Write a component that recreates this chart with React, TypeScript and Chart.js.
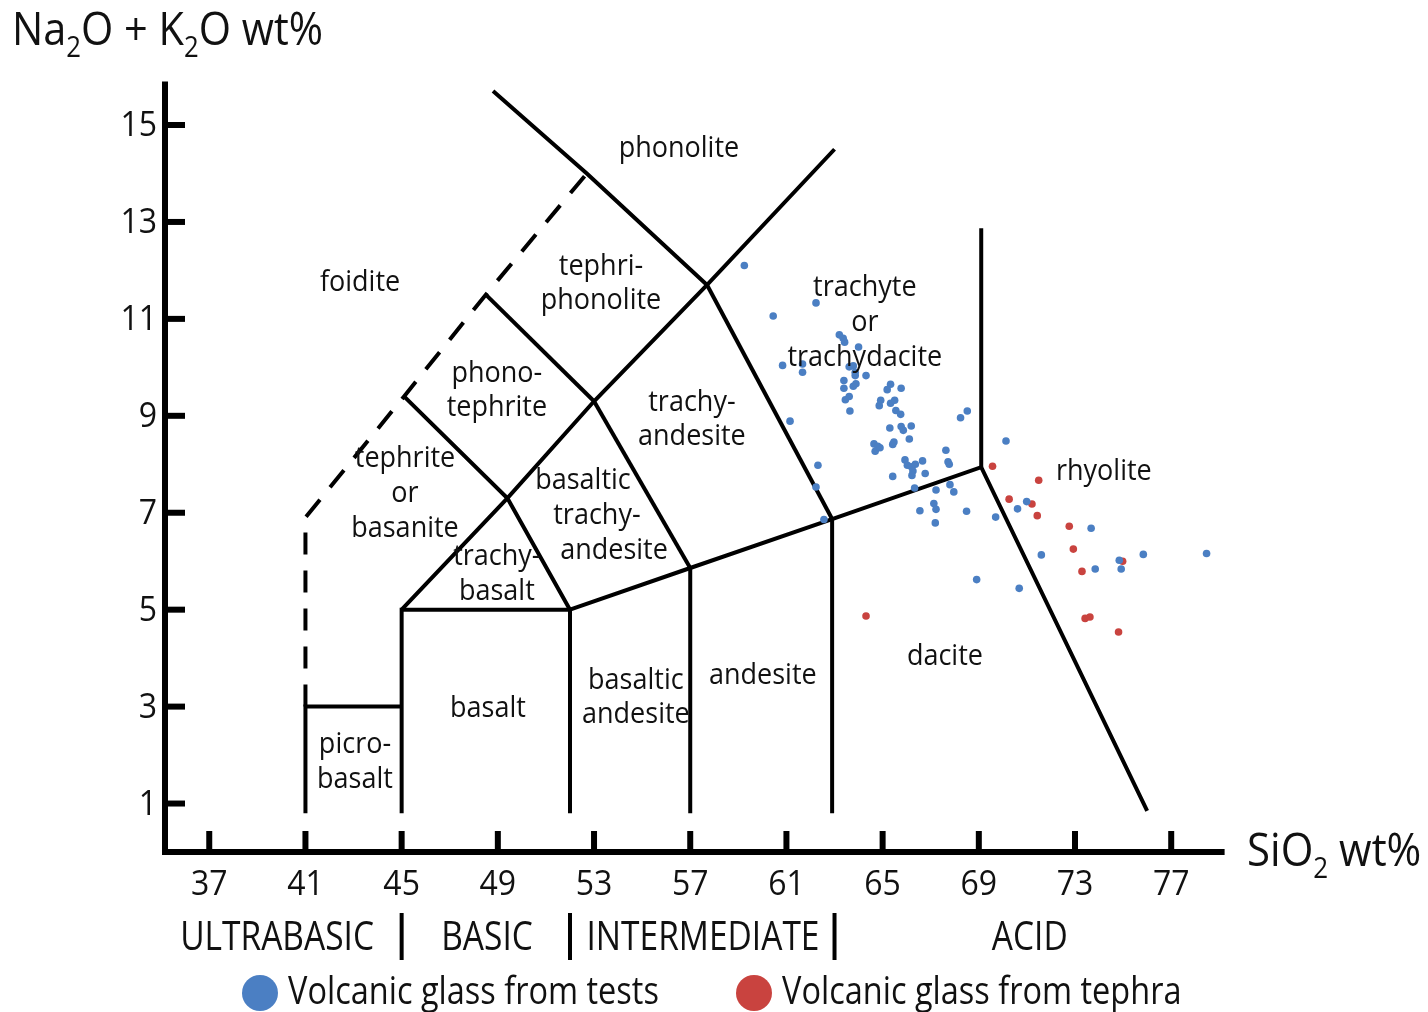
import React, { useEffect, useRef } from "react";
import { Chart, registerables } from "chart.js";

Chart.register(...registerables);

// ---- axis ranges & ticks ----
const X_MIN = 35.16;
const X_MAX = 79.22;
const Y_MIN = 0;
const Y_MAX = 15.9;
const xTicks = [37, 41, 45, 49, 53, 57, 61, 65, 69, 73, 77];
const yTicks = [1, 3, 5, 7, 9, 11, 13, 15];

// ---- data: volcanic glass from tests (blue) ----
const testsSiO2 = [
  59.25, 62.23, 60.45, 60.84, 61.67, 61.67, 61.15, 62.31, 62.23, 62.56,
  63.2, 63.36, 63.42, 64.0, 63.61, 63.78, 63.86, 63.86, 64.31, 63.39,
  63.39, 63.78, 63.89, 63.61, 63.45, 63.64, 65.33, 65.19, 65.77, 64.92,
  64.86, 65.33, 65.5, 65.55, 65.75, 65.3, 65.77, 65.86, 66.19, 66.11,
  64.64, 64.8, 64.69, 64.89, 65.42, 65.47, 68.52, 68.24, 67.63, 67.72,
  67.77, 65.93, 66.03, 66.2, 66.36, 66.66, 66.26, 66.22, 66.77, 65.42,
  66.33, 67.22, 67.8, 67.96, 67.13, 67.22, 66.55, 68.49, 67.19, 70.13,
  69.7, 70.61, 70.99, 73.67, 71.6, 73.84, 74.84, 74.92, 75.84, 78.47,
  68.91, 70.68,
];
const testsAlkali = [
  12.1, 11.33, 11.06, 10.04, 10.07, 9.9, 8.89, 7.98, 7.53, 6.86,
  10.67, 10.6, 10.52, 10.42, 10.01, 10.03, 9.9, 9.83, 9.83, 9.73,
  9.57, 9.61, 9.66, 9.4, 9.33, 9.1, 9.65, 9.54, 9.57, 9.32,
  9.21, 9.26, 9.32, 9.11, 9.03, 8.75, 8.78, 8.7, 8.79, 8.52,
  8.42, 8.37, 8.27, 8.34, 8.41, 8.46, 9.1, 8.96, 8.29, 8.05,
  8.0, 8.09, 7.98, 7.95, 8.0, 8.07, 7.86, 7.77, 7.81, 7.75,
  7.51, 7.47, 7.58, 7.43, 7.19, 7.07, 7.04, 7.03, 6.79, 8.48,
  6.91, 7.08, 7.23, 6.68, 6.13, 5.84, 6.02, 5.84, 6.14, 6.16,
  5.62, 5.44,
];

// ---- data: volcanic glass from tephra (red) ----
const tephraSiO2 = [69.57, 71.49, 70.26, 71.21, 71.43, 72.76, 72.93, 73.29, 74.98, 64.31, 73.42, 73.62, 74.81];
const tephraAlkali = [7.96, 7.67, 7.28, 7.18, 6.94, 6.72, 6.25, 5.79, 6.0, 4.87, 4.82, 4.85, 4.54];

// ---- TAS field boundaries (SiO2, Na2O+K2O) ----
const solidBoundaries: [number, number][][] = [
  [[41, 0.8], [41, 3], [45, 3]],
  [[45, 0.8], [45, 5], [52, 5], [52, 0.8]],
  [[45, 5], [49.4, 7.3], [53, 9.3], [57.7, 11.7], [63, 14.5]],
  [[52, 5], [49.4, 7.3], [45.1, 9.4]],
  [[52, 5], [57, 5.86], [62.9, 6.87], [69.1, 7.94], [76, 0.85]],
  [[57, 0.8], [57, 5.86]],
  [[62.9, 0.8], [62.9, 6.87]],
  [[69.1, 7.94], [69.1, 12.87]],
  [[53, 9.3], [57, 5.86]],
  [[57.7, 11.7], [62.9, 6.87]],
  [[48.5, 11.5], [53, 9.3]],
  [[48.8, 15.7], [52.7, 14], [57.7, 11.7]],
];
const dashedBoundaries: [number, number][][] = [
  [[41, 3], [41, 6.9], [45.1, 9.4], [48.5, 11.5], [52.7, 14]],
];

// ---- field names ----
const fieldNames = [
  "phonolite", "foidite", "tephri-", "phonolite", "phono-", "tephrite",
  "trachyte", "or", "trachydacite", "trachy-", "andesite",
  "tephrite", "or", "basanite", "basaltic", "trachy-", "andesite",
  "trachy-", "basalt", "rhyolite", "basaltic", "andesite", "andesite",
  "basalt", "picro-", "basalt", "dacite",
];
const fieldSiO2 = [
  56.53, 43.27, 53.29, 53.29, 48.96, 48.96,
  64.26, 64.26, 64.26, 57.07, 57.07,
  45.14, 45.14, 45.14, 52.54, 53.12, 53.83,
  48.96, 48.96, 74.2, 54.74, 54.74, 60.02,
  48.59, 43.06, 43.06, 67.59,
];
const fieldAlkali = [
  14.5, 11.74, 12.07, 11.37, 9.86, 9.16,
  11.64, 10.91, 10.19, 9.26, 8.56,
  8.11, 7.38, 6.66, 7.65, 6.93, 6.21,
  6.08, 5.36, 7.84, 3.54, 2.82, 3.63,
  2.95, 2.2, 1.48, 4.02,
];

// ---- silica groups ----
const groupNames = ["ULTRABASIC", "BASIC", "INTERMEDIATE", "ACID"];
const groupCenters = [39.82, 48.55, 57.53, 71.12];
const groupDividers = [45, 52, 63];

const legendLabels = ["Volcanic glass from tests", "Volcanic glass from tephra"];

const BLUE = "#4b7fc3";
const RED = "#c9433f";
const FONT = '"Open Sans", "Noto Sans", sans-serif';

function txt(
  ctx: CanvasRenderingContext2D,
  s: string,
  x: number,
  y: number,
  size: number,
  align: CanvasTextAlign = "center",
  baseline: CanvasTextBaseline = "middle",
  sy = 1
) {
  ctx.save();
  ctx.font = `${size}px ${FONT}`;
  ctx.textAlign = align;
  ctx.textBaseline = baseline;
  ctx.fillStyle = "#111";
  ctx.translate(x, y);
  ctx.scale(1, sy);
  ctx.fillText(s, 0, 0);
  ctx.restore();
}

function rich(
  ctx: CanvasRenderingContext2D,
  parts: [string, boolean][],
  x: number,
  y: number,
  size: number,
  sy = 1
) {
  let cx = x;
  for (const [s, sub] of parts) {
    const sz = sub ? size * 0.62 : size;
    ctx.save();
    ctx.font = `${sz}px ${FONT}`;
    const w = ctx.measureText(s).width;
    ctx.restore();
    txt(ctx, s, cx, sub ? y + size * 0.28 : y, sz, "left", "alphabetic", sy);
    cx += w;
  }
}

const tasPlugin = {
  id: "tasDecor",
  beforeDatasetsDraw(chart: any) {
    const { ctx, chartArea: a, scales } = chart;
    const xs = scales.x;
    const ys = scales.y;
    ctx.save();
    ctx.strokeStyle = "#000";
    ctx.lineCap = "butt";
    ctx.lineJoin = "miter";
    ctx.lineWidth = 6;
    ctx.beginPath();
    ctx.moveTo(a.left, a.top);
    ctx.lineTo(a.left, a.bottom);
    ctx.lineTo(a.right, a.bottom);
    ctx.stroke();
    for (const v of yTicks) {
      const py = ys.getPixelForValue(v);
      ctx.beginPath();
      ctx.moveTo(a.left, py);
      ctx.lineTo(a.left + 20, py);
      ctx.stroke();
    }
    for (const v of xTicks) {
      const px = xs.getPixelForValue(v);
      ctx.beginPath();
      ctx.moveTo(px, a.bottom);
      ctx.lineTo(px, a.bottom - 21);
      ctx.stroke();
    }
    ctx.restore();
  },
  afterDraw(chart: any) {
    const { ctx, chartArea: a, scales } = chart;
    const xs = scales.x;
    const ys = scales.y;
    // tick labels
    for (const v of xTicks) {
      txt(ctx, String(v), xs.getPixelForValue(v), a.bottom + 33, 32, "center", "middle", 1.1);
    }
    for (const v of yTicks) {
      txt(ctx, String(v), a.left - 8, ys.getPixelForValue(v) + 1, 32, "right", "middle", 1.1);
    }
    // field names
    fieldNames.forEach((t, i) => {
      txt(ctx, t, xs.getPixelForValue(fieldSiO2[i]), ys.getPixelForValue(fieldAlkali[i]), 27, "center", "middle", 1.05);
    });
    // silica groups
    groupNames.forEach((t, i) => {
      txt(ctx, t, xs.getPixelForValue(groupCenters[i]), a.bottom + 86, 33.5, "center", "middle", 1.22);
    });
    ctx.save();
    ctx.strokeStyle = "#000";
    ctx.lineWidth = 4;
    for (const v of groupDividers) {
      const px = xs.getPixelForValue(v);
      ctx.beginPath();
      ctx.moveTo(px, a.bottom + 61);
      ctx.lineTo(px, a.bottom + 108);
      ctx.stroke();
    }
    ctx.restore();
    // legend
    const ly = a.bottom + 141;
    const legendX = [260, 754];
    const legendC = [BLUE, RED];
    legendLabels.forEach((t, i) => {
      ctx.save();
      ctx.fillStyle = legendC[i];
      ctx.beginPath();
      ctx.arc(legendX[i], ly, 18, 0, Math.PI * 2);
      ctx.fill();
      ctx.restore();
      txt(ctx, t, legendX[i] + 28, ly, 32.5, "left", "middle", 1.18);
    });
    // axis titles
    rich(ctx, [["Na", false], ["2", true], ["O + K", false], ["2", true], ["O wt%", false]], 12, 45, 41.5, 1.1);
    rich(ctx, [["SiO", false], ["2", true], [" wt%", false]], 1247, 866, 42, 1.1);
  },
};

export default function App() {
  const ref = useRef<HTMLCanvasElement | null>(null);
  useEffect(() => {
    if (!ref.current) return;
    const datasets: any[] = [];
    datasets.push({
      label: legendLabels[0],
      data: testsSiO2.map((x, i) => ({ x, y: testsAlkali[i] })),
      backgroundColor: BLUE,
      borderColor: BLUE,
      pointRadius: 3.8,
      pointBorderWidth: 0,
      showLine: false,
      order: 0,
    });
    datasets.push({
      label: legendLabels[1],
      data: tephraSiO2.map((x, i) => ({ x, y: tephraAlkali[i] })),
      backgroundColor: RED,
      borderColor: RED,
      pointRadius: 3.8,
      pointBorderWidth: 0,
      showLine: false,
      order: 0,
    });
    solidBoundaries.forEach((line) => {
      datasets.push({
        data: line.map(([x, y]) => ({ x, y })),
        showLine: true,
        borderColor: "#000",
        borderWidth: 4,
        pointRadius: 0,
        borderCapStyle: "butt",
        borderJoinStyle: "miter",
        tension: 0,
        order: 2,
      });
    });
    dashedBoundaries.forEach((line) => {
      datasets.push({
        data: line.map(([x, y]) => ({ x, y })),
        showLine: true,
        borderColor: "#000",
        borderWidth: 4,
        borderDash: [22, 16],
        pointRadius: 0,
        borderCapStyle: "butt",
        borderJoinStyle: "miter",
        tension: 0,
        order: 2,
      });
    });
    const chart = new Chart(ref.current, {
      type: "scatter",
      data: { datasets },
      options: {
        responsive: false,
        maintainAspectRatio: false,
        devicePixelRatio: 1,
        animation: false,
        layout: { padding: { left: 165, top: 81.4, right: 203.4, bottom: 160 } },
        scales: {
          x: { type: "linear", min: X_MIN, max: X_MAX, display: false },
          y: { type: "linear", min: Y_MIN, max: Y_MAX, display: false },
        },
        plugins: { legend: { display: false }, tooltip: { enabled: false } },
      },
      plugins: [tasPlugin],
    } as any);
    return () => chart.destroy();
  }, []);
  return (
    <canvas
      ref={ref}
      width={1428}
      height={1012}
      style={{ display: "block", position: "fixed", left: 0, top: 0, width: 1428, height: 1012, background: "#fff" }}
    />
  );
}
